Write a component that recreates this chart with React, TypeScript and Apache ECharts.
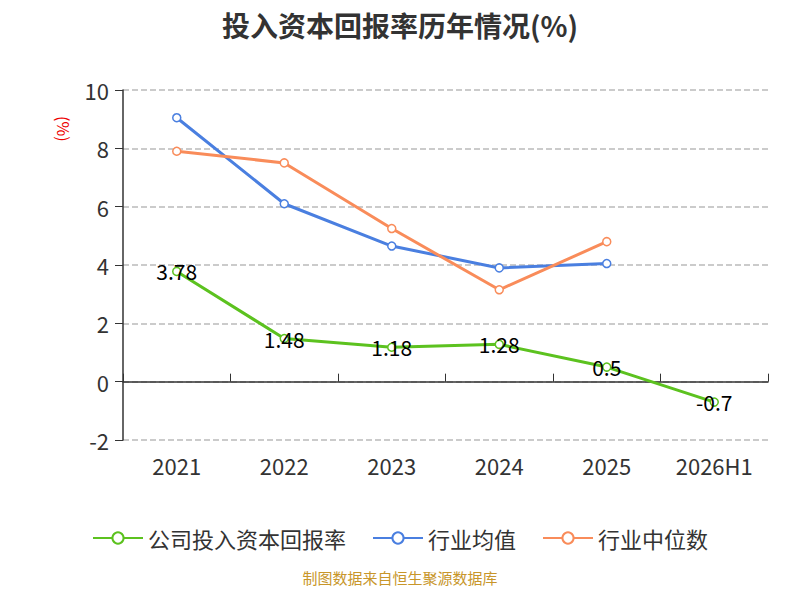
import React, { useEffect, useRef } from "react";
import * as echarts from "echarts";

const categories = ["2021", "2022", "2023", "2024", "2025", "2026H1"];
const companyValues = [3.78, 1.48, 1.18, 1.28, 0.5, -0.7];
const industryAvg = [9.05, 6.1, 4.65, 3.9, 4.05, null];
const industryMedian = [7.9, 7.5, 5.25, 3.15, 4.8, null];

const App = () => {
  const chartRef = useRef<HTMLDivElement>(null);

  useEffect(() => {
    // @ts-ignore
    const chart = echarts.init(chartRef.current, null, { renderer: "svg" });
    const font = "Noto Sans CJK SC";
    const mk = (name: string, data: any[], color: string, label: boolean) => ({
      name,
      type: "line",
      data,
      symbol: "circle",
      symbolSize: 8,
      itemStyle: { color: "#fff", borderColor: color, borderWidth: 1.5 },
      lineStyle: { color, width: 3 },
      label: label
        ? { show: true, position: "inside", fontSize: 21, color: "#000", fontFamily: font }
        : { show: false },
    });
    chart.setOption({
      animation: false,
      textStyle: { fontFamily: font },
      title: {
        text: "投入资本回报率历年情况(%)",
        left: "center",
        top: -2,
        textStyle: { fontSize: 28, fontWeight: "bold", color: "#333" },
      },
      legend: {
        bottom: 38,
        itemWidth: 50,
        itemHeight: 14,
        itemGap: 26,
        textStyle: { fontSize: 22, color: "#333" },
        data: [
          { name: "公司投入资本回报率", itemStyle: { color: "#fff", borderColor: "#5cc21f" } },
          { name: "行业均值", itemStyle: { color: "#fff", borderColor: "#4a7fe0" } },
          { name: "行业中位数", itemStyle: { color: "#fff", borderColor: "#f98c5a" } },
        ],
      },
      graphic: [
        {
          type: "text",
          left: "center",
          top: 562,
          style: { text: "制图数据来自恒生聚源数据库", fontSize: 15, fill: "#c8962a", fontFamily: font },
        },
        {
          type: "text",
          x: 64,
          y: 108,
          rotation: -Math.PI / 2,
          style: { text: "(%)", fontSize: 16, fill: "#e00", fontFamily: font },
        },
      ],
      grid: { left: 115, right: 24, top: 82, bottom: 152 },
      xAxis: [
        {
          type: "category",
          data: categories,
          axisLine: { show: false, onZero: false },
          axisTick: { show: false },
          axisLabel: { fontSize: 22, color: "#333", margin: 14 },
        },
        {
          type: "category",
          data: categories,
          axisLine: { show: true, onZero: true, lineStyle: { color: "#333", width: 1.5 } },
          axisTick: { show: true, length: 8, lineStyle: { color: "#333" } },
          axisLabel: { show: false },
        },
      ],
      yAxis: {
        type: "value",
        min: -2,
        max: 10,
        interval: 2,
        axisLine: { show: true, lineStyle: { color: "#333", width: 1.5 } },
        axisTick: { show: true, length: 8, lineStyle: { color: "#333" } },
        axisLabel: { fontSize: 22, color: "#333", margin: 14 },
        splitLine: { lineStyle: { type: "dashed", color: "#bbb", width: 1.5 } },
      },
      series: [
        mk("公司投入资本回报率", companyValues, "#5cc21f", true),
        mk("行业均值", industryAvg, "#4a7fe0", false),
        mk("行业中位数", industryMedian, "#f98c5a", false),
      ],
    });
    return () => {
      chart.dispose();
    };
  }, []);

  return <div ref={chartRef} style={{ width: "784px", height: "584px" }} />;
};

export default App;
